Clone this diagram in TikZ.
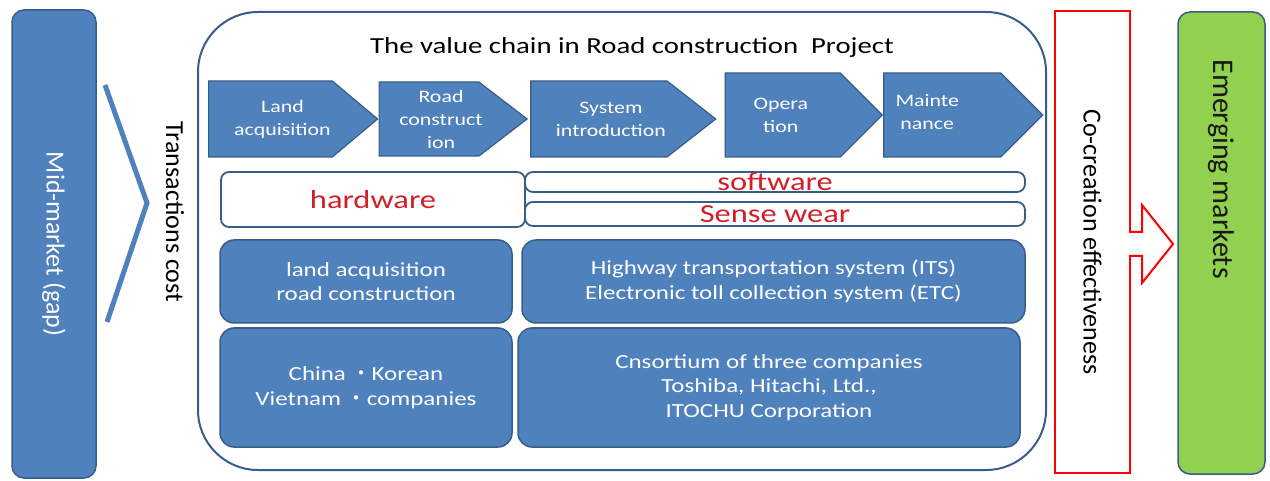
\documentclass[tikz,border=0pt]{standalone}
\usepackage{fontspec}
\setmainfont{Carlito}[FakeStretch=1.25]
\newfontfamily\vfont{Carlito}
\newfontfamily\cjk{Noto Sans CJK JP}
\usetikzlibrary{positioning,shapes.symbols}

\definecolor{fillblue}{HTML}{4F81BD}
\definecolor{lineblue}{HTML}{385D8A}
\definecolor{gapred}{HTML}{FF0000}
\definecolor{wordred}{HTML}{D0202A}
\definecolor{mktgreen}{HTML}{92D050}

\tikzset{
  chev/.style={signal, signal to=east, draw=lineblue, line width=1.2pt, fill=fillblue, inner sep=0pt},
  chevword/.style={text=white, align=center, inner sep=0pt, font=\fontsize{17.5}{23}\selectfont},
  ware/.style={draw=lineblue, line width=1.8pt, fill=white, rounded corners=8pt, inner sep=0pt},
  redword/.style={text=wordred, inner sep=0pt, font=\fontsize{26}{30}\selectfont},
  cell/.style={draw=lineblue, line width=1.5pt, fill=fillblue, rounded corners=14pt,
    text=white, align=center, inner sep=0pt, font=\fontsize{20}{24.5}\selectfont},
  vtext/.style={rotate=-90, inner sep=0pt, font=\vfont\fontsize{26}{30}\selectfont},
}

\begin{document}
\begin{tikzpicture}[x=1pt,y=-1pt]
\useasboundingbox (0,0) rectangle (1270,481);

\node[vtext, draw=lineblue, line width=1.5pt, fill=fillblue, rounded corners=12pt,
  minimum width=468pt, minimum height=84pt, text=white] (mid) at (54,244) {Mid-market (gap)};
\draw[fillblue, line width=5pt] (105,85) -- (147,203) -- (107,322);
\node[vtext] (tc) at (175,212) {Transactions cost};

\node[draw=lineblue, line width=2pt, rounded corners=60pt,
  minimum width=848pt, minimum height=458pt] (chain) at (622,241) {};
\node[font=\fontsize{23}{27}\selectfont] (ttl) at (632,47) {The value chain in Road construction\ \ Project};

\node[chev, anchor=west, minimum width=169pt, minimum height=76pt, signal pointer angle=80,
  label={[chevword, xshift=12pt]center:{Land\\acquisition}}] (land) at (208,119) {};
\node[chev, minimum width=148pt, minimum height=74pt, signal pointer angle=75, right=0pt of land,
  label={[chevword, xshift=12pt]center:{Road\\construct\\ion}}] (road) {};
\node[chev, minimum width=185pt, minimum height=76pt, signal pointer angle=76, right=2pt of road,
  label={[chevword, xshift=12pt]center:{System\\introduction}}] (sys) {};
\node[chev, minimum width=157pt, minimum height=84pt, signal pointer angle=90, right=8pt of sys, yshift=4pt,
  label={[chevword, xshift=-2pt]center:{Opera\\tion}}] (opera) {};
\node[chev, minimum width=159pt, minimum height=84pt, signal pointer angle=90, right=0pt of opera,
  label={[chevword, xshift=-15pt, yshift=3pt]center:{Mainte\\nance}}] (mainte) {};

\node[ware, redword, minimum width=304pt, minimum height=55pt] (hw) at (373,199.5) {hardware};
\node[ware, minimum width=500pt, minimum height=20pt, label={[redword]center:software}] (sw) at (775,182) {};
\node[ware, minimum width=500pt, minimum height=24pt, label={[redword]center:Sense wear}] (sense) at (775,214) {};

\node[cell, minimum width=292pt, minimum height=83pt] (landroad) at (366,281.5) {land acquisition\\road construction};
\node[cell, minimum width=503pt, minimum height=83pt] (its) at (773.5,281.5) {Highway transportation system (ITS)\\Electronic toll collection system (ETC)};
\node[cell, minimum width=292pt, minimum height=119pt] (asia) at (366,387.5) {China {\cjk ・}Korean\\Vietnam {\cjk ・}companies};
\node[cell, minimum width=502pt, minimum height=119pt] (trio) at (769,387.5) {Cnsortium of three companies\\Toshiba, Hitachi, Ltd.,\\ITOCHU Corporation};

\node[vtext, draw=gapred, line width=2pt, fill=white,
  minimum width=462pt, minimum height=75pt] (cocreate) at (1092.5,242) {Co-creation effectiveness};
\coordinate (ab) at ([xshift=-2pt,yshift=-2pt]cocreate.north);
\fill[white] (ab) ++(0,-12) -- ++(13,0) -- ++(0,-27) -- ++(31,39) -- ++(-31,39) -- ++(0,-27) -- ++(-13,0) -- cycle;
\draw[gapred, line width=2pt] (ab) ++(0,-12) -- ++(13,0) -- ++(0,-27) -- ++(31,39) -- ++(-31,39) -- ++(0,-27) -- ++(-13,0);

\node[draw=lineblue, line width=1.5pt, fill=mktgreen, rounded corners=12pt, rotate=-90,
  minimum width=462pt, minimum height=87pt] (emerge) at (1221.5,243) {};
\node[vtext, anchor=west, text=black!90, font=\vfont\fontsize{30}{34}\selectfont] (emtxt) at ([yshift=-48pt]emerge.west) {Emerging markets};
\end{tikzpicture}
\end{document}
